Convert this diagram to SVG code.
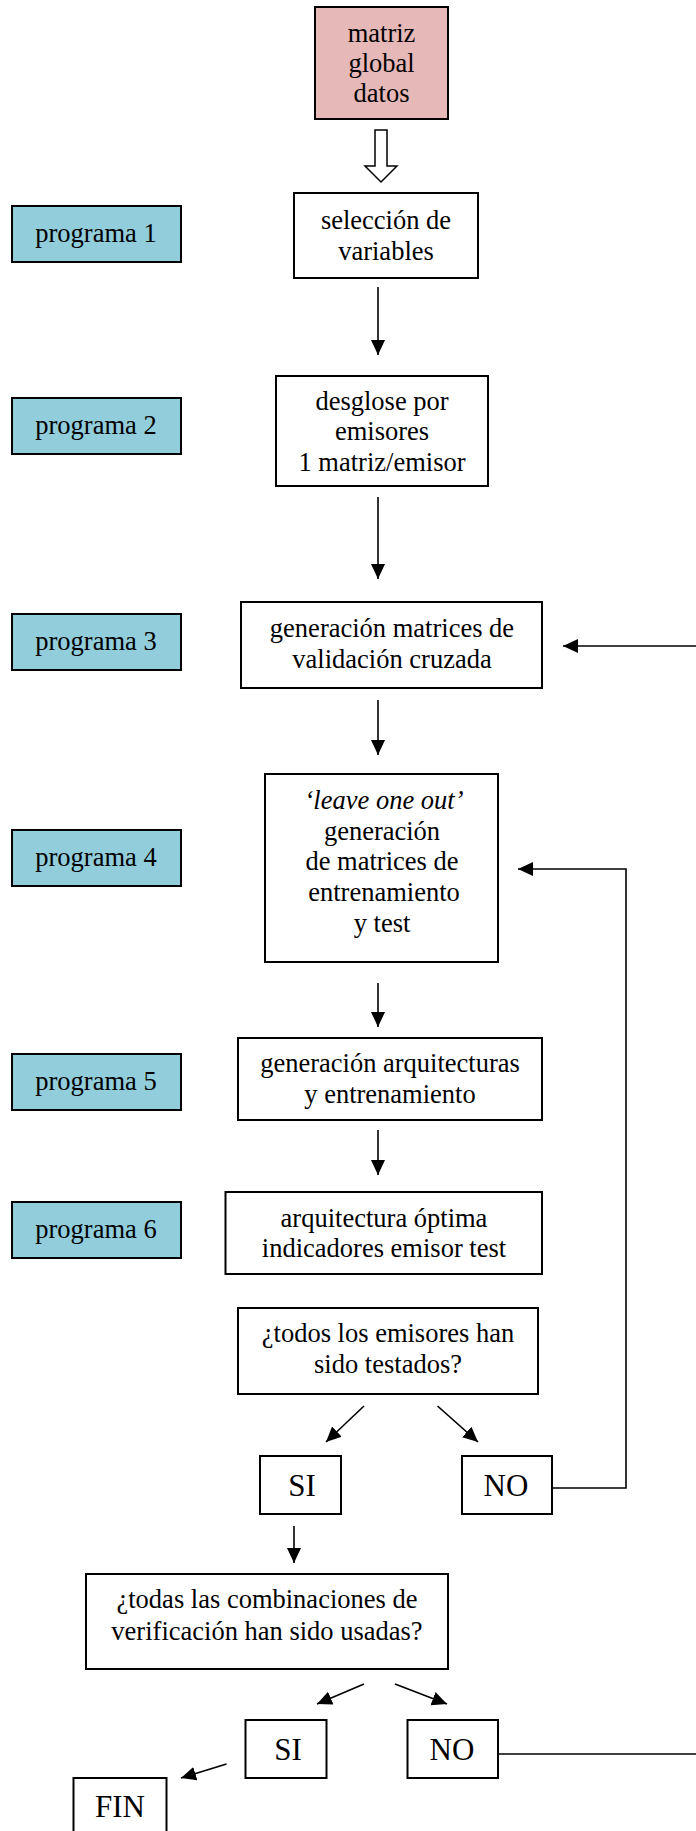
<svg xmlns="http://www.w3.org/2000/svg" width="696" height="1831" viewBox="0 0 696 1831">
<style>
.box{fill:#ffffff;stroke:#000;stroke-width:2}
.prog{fill:#92CDDC;stroke:#000;stroke-width:2}
.src{fill:#E6B8B7;stroke:#000;stroke-width:2}
text{font-family:"Liberation Serif","Times New Roman",serif;font-size:26.5px;fill:#000;text-anchor:middle}
.big{font-size:31px}
.con{stroke:#000;stroke-width:1.6;fill:none}
</style>
<defs>
<marker id="ah" markerUnits="userSpaceOnUse" markerWidth="16" markerHeight="16" refX="15" refY="7" orient="auto">
<path d="M0,0 L15,7 L0,14 z" fill="#000"/>
</marker>
</defs>
<rect width="696" height="1831" fill="#ffffff"/>

<g id="matriz">
<rect class="src" x="315" y="7" width="133" height="112"/>
<text x="381.5" y="42">matriz</text>
<text x="381.5" y="72">global</text>
<text x="381.5" y="102">datos</text>
</g>

<g id="p1"><rect class="prog" x="12" y="206" width="169" height="56"/><text x="96" y="242">programa 1</text></g>
<g id="p2"><rect class="prog" x="12" y="398" width="169" height="56"/><text x="96" y="434">programa 2</text></g>
<g id="p3"><rect class="prog" x="12" y="614" width="169" height="56"/><text x="96" y="650">programa 3</text></g>
<g id="p4"><rect class="prog" x="12" y="830" width="169" height="56"/><text x="96" y="866">programa 4</text></g>
<g id="p5"><rect class="prog" x="12" y="1054" width="169" height="56"/><text x="96" y="1090">programa 5</text></g>
<g id="p6"><rect class="prog" x="12" y="1202" width="169" height="56"/><text x="96" y="1238">programa 6</text></g>

<g id="seleccion">
<rect class="box" x="294" y="193" width="184" height="85"/>
<text x="386" y="229">selección de</text>
<text x="386" y="260">variables</text>
</g>

<g id="desglose">
<rect class="box" x="276" y="376" width="212" height="110"/>
<text x="382" y="410">desglose por</text>
<text x="382" y="440">emisores</text>
<text x="382" y="471">1 matriz/emisor</text>
</g>

<g id="validacion">
<rect class="box" x="241" y="602" width="301" height="86"/>
<text x="392" y="637">generación matrices de</text>
<text x="392" y="668">validación cruzada</text>
</g>

<g id="leave">
<rect class="box" x="265" y="774" width="233" height="188"/>
<text x="384" y="809" font-style="italic">‘leave one out’</text>
<text x="382" y="840">generación</text>
<text x="382" y="870">de matrices de</text>
<text x="384" y="901">entrenamiento</text>
<text x="382" y="932">y test</text>
</g>

<g id="arquitecturas">
<rect class="box" x="238" y="1038" width="304" height="82"/>
<text x="390" y="1072">generación arquitecturas</text>
<text x="390" y="1103">y entrenamiento</text>
</g>

<g id="optima">
<rect class="box" x="225.5" y="1192" width="316.5" height="82"/>
<text x="384" y="1227">arquitectura óptima</text>
<text x="384" y="1257">indicadores emisor test</text>
</g>

<g id="todos">
<rect class="box" x="238" y="1308" width="300" height="86"/>
<text x="388" y="1342">¿todos los emisores han</text>
<text x="388" y="1373">sido testados?</text>
</g>

<g id="si1"><rect class="box" x="260" y="1456" width="81" height="58"/><text class="big" x="302" y="1496">SI</text></g>
<g id="no1"><rect class="box" x="462" y="1456" width="90" height="58"/><text class="big" x="506" y="1496">NO</text></g>

<g id="todas">
<rect class="box" x="86" y="1574" width="362" height="95"/>
<text x="267" y="1608">¿todas las combinaciones de</text>
<text x="267" y="1640">verificación han sido usadas?</text>
</g>

<g id="si2"><rect class="box" x="245.5" y="1720" width="81" height="58"/><text class="big" x="288" y="1760">SI</text></g>
<g id="no2"><rect class="box" x="407.5" y="1720" width="90.5" height="58"/><text class="big" x="452" y="1760">NO</text></g>

<g id="fin"><rect class="box" x="73.5" y="1778" width="93" height="70"/><text class="big" x="120" y="1817">FIN</text></g>

<g id="connectors">
<polygon points="375,130 387,130 387,166 397,166 381,182 365,166 375,166" fill="#fff" stroke="#000" stroke-width="1.5"/>
<line class="con" x1="378" y1="287" x2="378" y2="355" marker-end="url(#ah)"/>
<line class="con" x1="378" y1="497" x2="378" y2="579" marker-end="url(#ah)"/>
<line class="con" x1="378" y1="700" x2="378" y2="755" marker-end="url(#ah)"/>
<line class="con" x1="378" y1="983" x2="378" y2="1027" marker-end="url(#ah)"/>
<line class="con" x1="378" y1="1130" x2="378" y2="1175" marker-end="url(#ah)"/>
<line class="con" x1="364" y1="1406" x2="326" y2="1442" marker-end="url(#ah)"/>
<line class="con" x1="437.5" y1="1406" x2="478" y2="1442" marker-end="url(#ah)"/>
<polyline class="con" points="552,1488 626,1488 626,869 518,869" marker-end="url(#ah)"/>
<line class="con" x1="294" y1="1526" x2="294" y2="1563" marker-end="url(#ah)"/>
<line class="con" x1="364" y1="1684" x2="317" y2="1704" marker-end="url(#ah)"/>
<line class="con" x1="395" y1="1684" x2="447" y2="1704" marker-end="url(#ah)"/>
<line class="con" x1="226.5" y1="1764" x2="181" y2="1778" marker-end="url(#ah)"/>
<line class="con" x1="498" y1="1754" x2="696" y2="1754"/>
<line class="con" x1="696" y1="646" x2="563" y2="646" marker-end="url(#ah)"/>
</g>
</svg>
